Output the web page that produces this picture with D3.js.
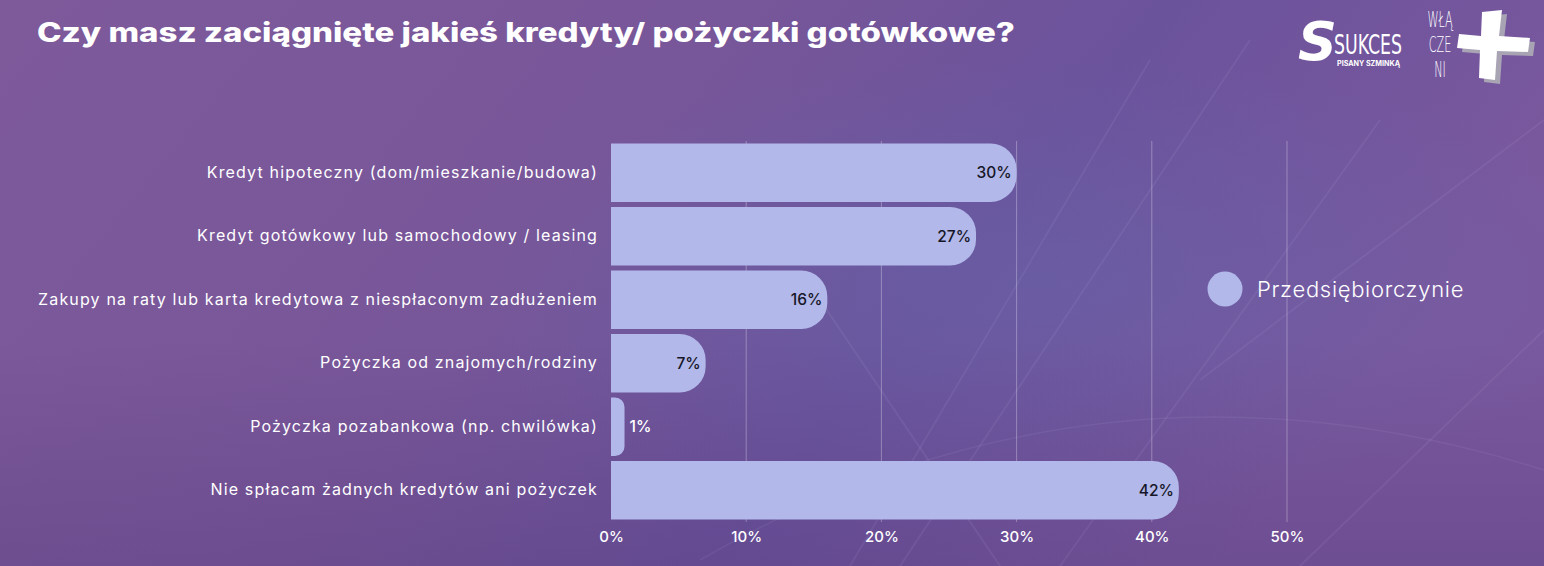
<!DOCTYPE html>
<html>
<head>
<meta charset="utf-8">
<script src="https://cdn.jsdelivr.net/npm/d3@7"></script>
<style>
  html, body { margin: 0; padding: 0; background: #755598; }
  svg { display: block; }
</style>
</head>
<body>
<svg id="chart" width="1544" height="566"></svg>
<script>
// data
var categories = [
  'Kredyt hipoteczny (dom/mieszkanie/budowa)',
  'Kredyt gotówkowy lub samochodowy / leasing',
  'Zakupy na raty lub karta kredytowa z niespłaconym zadłużeniem',
  'Pożyczka od znajomych/rodziny',
  'Pożyczka pozabankowa (np. chwilówka)',
  'Nie spłacam żadnych kredytów ani pożyczek'
];
var values = [30, 27, 16, 7, 1, 42];
var tickValues = [0, 10, 20, 30, 40, 50];
var seriesName = 'Przedsiębiorczynie';
var title = 'Czy masz zaciągnięte jakieś kredyty/ pożyczki gotówkowe?';

var svg = d3.select('#chart');
var W = 1544, H = 566;
var barColor = '#b2b8e9';
var font = 'Inter, "Open Sans", sans-serif';

// background
var defs = svg.append('defs');
var bg = defs.append('linearGradient').attr('id', 'bg')
  .attr('x1', 0).attr('y1', 0).attr('x2', 1).attr('y2', 0.3);
bg.append('stop').attr('offset', '0%').attr('stop-color', '#7e5a9b');
bg.append('stop').attr('offset', '45%').attr('stop-color', '#775699');
bg.append('stop').attr('offset', '70%').attr('stop-color', '#6b539c');
bg.append('stop').attr('offset', '100%').attr('stop-color', '#7a589e');
var glow = defs.append('radialGradient').attr('id', 'glow')
  .attr('cx', 0.68).attr('cy', 0.5).attr('r', 0.4);
glow.append('stop').attr('offset', '0%').attr('stop-color', '#6468ad').attr('stop-opacity', 0.4);
glow.append('stop').attr('offset', '100%').attr('stop-color', '#6468ad').attr('stop-opacity', 0);
var shade = defs.append('linearGradient').attr('id', 'shade')
  .attr('x1', 0).attr('y1', 0).attr('x2', 0).attr('y2', 1);
shade.append('stop').attr('offset', '60%').attr('stop-color', '#4a2f70').attr('stop-opacity', 0);
shade.append('stop').attr('offset', '100%').attr('stop-color', '#4a2f70').attr('stop-opacity', 0.25);

svg.append('rect').attr('width', W).attr('height', H).attr('fill', 'url(#bg)');
svg.append('rect').attr('width', W).attr('height', H).attr('fill', 'url(#glow)');
svg.append('rect').attr('width', W).attr('height', H).attr('fill', 'url(#shade)');

// faint background texture lines
var deco = svg.append('g').attr('stroke', '#c9b8e8').attr('stroke-opacity', 0.09).attr('fill', 'none');
[[850, 566, 1150, 60], [900, 566, 1250, 40], [1060, 566, 1380, 120], [1200, 380, 1544, 120],
 [1300, 566, 1544, 330], [820, 300, 1000, 566]].forEach(function(l) {
  deco.append('line').attr('x1', l[0]).attr('y1', l[1]).attr('x2', l[2]).attr('y2', l[3]).attr('stroke-width', 2);
});
deco.append('path').attr('d', 'M 700 560 Q 1100 330 1544 470').attr('stroke-width', 1.5);

// title
svg.append('text')
  .attr('x', 37).attr('y', 42)
  .attr('fill', '#ffffff')
  .attr('font-family', font)
  .attr('font-weight', 800)
  .attr('font-size', 26.5)
  .attr('textLength', 978)
  .attr('lengthAdjust', 'spacingAndGlyphs')
  .text(title);

// scales
var x = d3.scaleLinear().domain([0, 50]).range([611, 1287]);
var y = d3.scaleBand().domain(categories).range([141, 522])
  .paddingInner(0.08).paddingOuter(0.04);

// gridlines
svg.append('g').selectAll('line')
  .data(tickValues.filter(function(d) { return d > 0; }))
  .join('line')
  .attr('x1', function(d) { return x(d); })
  .attr('x2', function(d) { return x(d); })
  .attr('y1', 141).attr('y2', 522)
  .attr('stroke', '#ffffff').attr('stroke-opacity', 0.3).attr('stroke-width', 1);

// bars: square left, rounded right
function barPath(d) {
  var x0 = x(0), x1 = x(d.v), y0 = y(d.c), h = y.bandwidth();
  var w = x1 - x0;
  var r = Math.min(26, w * 0.7);
  return 'M' + x0 + ',' + y0 +
    'H' + (x1 - r) +
    'A' + r + ',' + r + ' 0 0 1 ' + x1 + ',' + (y0 + r) +
    'V' + (y0 + h - r) +
    'A' + r + ',' + r + ' 0 0 1 ' + (x1 - r) + ',' + (y0 + h) +
    'H' + x0 + 'Z';
}
var rows = categories.map(function(c, i) { return { c: c, v: values[i] }; });

svg.append('g').selectAll('path')
  .data(rows)
  .join('path')
  .attr('d', barPath)
  .attr('fill', barColor);

// value labels
function outside(d) { return x(d.v) - x(0) < 40; }
svg.append('g').selectAll('text')
  .data(rows)
  .join('text')
  .attr('x', function(d) { return outside(d) ? x(d.v) + 5 : x(d.v) - 5; })
  .attr('y', function(d) { return y(d.c) + y.bandwidth() / 2; })
  .attr('dy', '0.36em')
  .attr('text-anchor', function(d) { return outside(d) ? 'start' : 'end'; })
  .attr('fill', function(d) { return outside(d) ? '#ffffff' : '#161628'; })
  .attr('font-family', font)
  .attr('font-weight', 500)
  .attr('font-size', 15.5)
  .text(function(d) { return d.v + '%'; });

// category axis
var yAxis = svg.append('g')
  .attr('transform', 'translate(598,0)')
  .call(d3.axisLeft(y).tickSize(0).tickPadding(0));
yAxis.select('.domain').remove();
yAxis.selectAll('text')
  .attr('fill', '#ffffff')
  .attr('font-family', font)
  .attr('font-size', 16)
  .attr('letter-spacing', 1.15)
  .attr('font-weight', 400);

// value axis
var xAxis = svg.append('g')
  .attr('transform', 'translate(0,528)')
  .call(d3.axisBottom(x).tickValues(tickValues).tickSize(0).tickPadding(3)
    .tickFormat(function(d) { return d + '%'; }));
xAxis.select('.domain').remove();
xAxis.selectAll('text')
  .attr('fill', '#ffffff')
  .attr('font-family', font)
  .attr('font-size', 15)
  .attr('font-weight', 500);

// legend
var legend = svg.append('g').attr('transform', 'translate(1225,289)');
legend.append('circle').attr('r', 17.5).attr('fill', barColor);
legend.append('text')
  .attr('x', 32).attr('dy', '0.35em')
  .attr('fill', '#ffffff')
  .attr('font-family', font)
  .attr('font-weight', 300)
  .attr('font-size', 22)
  .attr('letter-spacing', 0.7)
  .text(seriesName);

// logos
var logo = svg.append('g').attr('fill', '#ffffff');
logo.append('text').attr('x', 1298).attr('y', 60)
  .attr('font-family', '"DejaVu Sans", sans-serif').attr('font-weight', 800)
  .attr('font-size', 54).attr('font-style', 'italic').text('S');
logo.append('text').attr('x', 1334).attr('y', 54)
  .attr('font-family', '"DejaVu Sans Condensed", "Liberation Sans Narrow", sans-serif')
  .attr('font-size', 27).attr('textLength', 68).attr('lengthAdjust', 'spacingAndGlyphs')
  .text('SUKCES');
logo.append('text').attr('x', 1337).attr('y', 66)
  .attr('font-family', font).attr('font-weight', 700)
  .attr('font-size', 7).attr('textLength', 63).attr('lengthAdjust', 'spacingAndGlyphs')
  .text('PISANY SZMINKĄ');
['WŁĄ', 'CZE', 'NI'].forEach(function(t, i) {
  logo.append('text')
    .attr('transform', 'translate(1440,' + (27 + i * 25) + ') scale(0.75,1.4)')
    .attr('text-anchor', 'middle')
    .attr('font-family', '"DejaVu Sans", sans-serif')
    .attr('font-weight', 200).attr('font-size', 15)
    .text(t);
});
var cross = 'M1482,12 L1502,10 L1499,36 L1530,38 L1528,52 L1497,51 L1495,80 L1479,78 L1480,50 L1457,48 L1459,34 L1481,36 Z';
logo.append('path').attr('d', cross).attr('fill', '#a9a4b4').attr('transform', 'translate(5,4)');
logo.append('path').attr('d', cross);
</script>
</body>
</html>
